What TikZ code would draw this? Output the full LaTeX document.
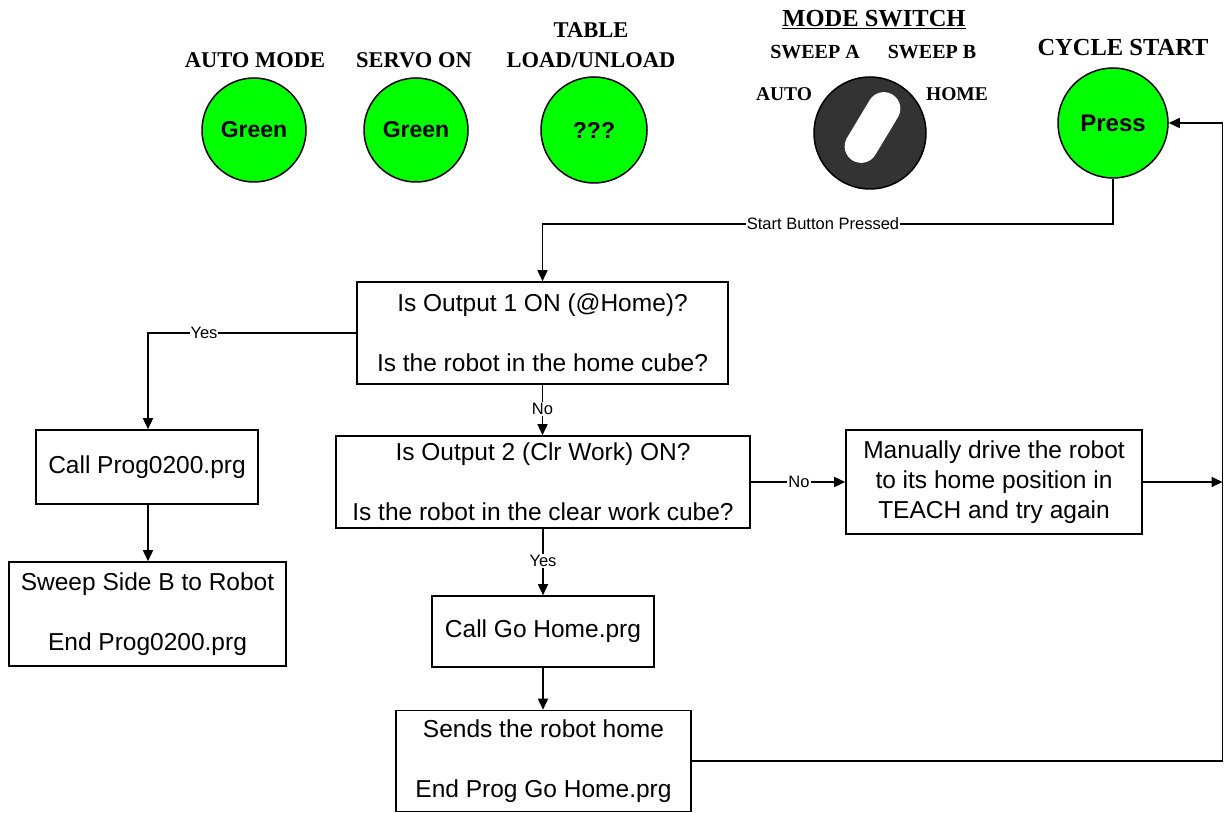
\documentclass[tikz,border=0pt]{standalone}
\usepackage{fontspec}
\setmainfont{Liberation Serif}
\setsansfont{Liberation Sans}
\newfontfamily\titlefont{Liberation Serif}
\usetikzlibrary{arrows.meta}
\definecolor{btngreen}{RGB}{0,255,0}
\definecolor{knobgray}{RGB}{51,51,51}
\begin{document}
\begin{tikzpicture}[x=1pt,y=-1pt,
  box/.style={draw, line width=1.6pt, inner sep=0pt, align=center,
    font=\sffamily\fontsize{24.5}{30}\selectfont},
  btn/.style={circle, draw, line width=1.5pt, fill=btngreen, inner sep=0pt,
    font=\sffamily\bfseries\fontsize{23}{27}\selectfont},
  ttl/.style={inner sep=0pt, align=center, font=\titlefont\bfseries\fontsize{22.5}{30}\selectfont},
  sttl/.style={inner sep=0pt, font=\titlefont\bfseries\fontsize{19.5}{24}\selectfont},
  lbl/.style={fill=white, inner sep=1pt, font=\sffamily\fontsize{16.5}{20}\selectfont},
  arr/.style={line width=1.6pt, -{Triangle[length=11pt,width=10pt]}},
  ln/.style={line width=1.6pt}]
\useasboundingbox (0,0) rectangle (1224,813);

% top controls
\node[ttl] (tauto) at (255,60) {AUTO MODE};
\node[btn, minimum size=104pt] (auto) at (254,130) {Green};
\node[ttl] (tservo) at (414,60) {SERVO ON};
\node[btn, minimum size=104pt] (servo) at (416,130) {Green};
\node[ttl] (ttable) at (591,45) {TABLE\\LOAD/UNLOAD};
\node[btn, minimum size=106pt] (table) at (594,130) {???};

\node[ttl, font=\titlefont\bfseries\fontsize{24.5}{30}\selectfont] (tmode) at (874,20) {\underline{MODE SWITCH}};
\node[sttl, font=\titlefont\bfseries\fontsize{20}{24}\selectfont] (swa) at (815,52) {SWEEP A};
\node[sttl, font=\titlefont\bfseries\fontsize{20}{24}\selectfont] (swb) at (932,52) {SWEEP B};
\node[sttl] (mauto) at (784,94) {AUTO};
\node[sttl] (mhome) at (957,94) {HOME};
\node[circle, draw, line width=1.5pt, fill=knobgray, minimum size=112pt, inner sep=0pt] (knob) at (870,133) {};
\node[fill=white, rounded corners=16.5pt, minimum width=33pt, minimum height=77pt, inner sep=0pt, rotate=-31] (slot) at (872.5,127.5) {};

\node[ttl, font=\titlefont\bfseries\fontsize{24.5}{30}\selectfont] (tcycle) at (1123,48) {CYCLE START};
\node[btn, minimum size=110pt, font=\sffamily\bfseries\fontsize{24}{28}\selectfont] (press) at (1113,123) {Press};

% flow boxes
\node[box, minimum width=371pt, minimum height=102pt] (box1) at (542.5,333) {Is Output 1 ON (@Home)?\\[30pt]Is the robot in the home cube?};
\node[box, minimum width=222pt, minimum height=74pt] (call1) at (147,467) {Call Prog0200.prg};
\node[box, minimum width=277pt, minimum height=104pt] (sweep) at (147.5,614) {Sweep Side B to Robot\\[30pt]End Prog0200.prg};
\node[box, minimum width=414pt, minimum height=92pt] (box2) at (543,482) {Is Output 2 (Clr Work) ON?\\[30pt]Is the robot in the clear work cube?};
\node[box, minimum width=222pt, minimum height=71pt] (call2) at (543,631.5) {Call Go Home.prg};
\node[box, minimum width=295pt, minimum height=101pt] (box4) at (543.5,761) {Sends the robot home\\[30pt]End Prog Go Home.prg};
\node[box, minimum width=296pt, minimum height=104pt] (manual) at (994,482) {Manually drive the robot\\to its home position in\\TEACH and try again};

% connectors
\coordinate (c1) at (1113,224);
\coordinate (c2) at (542.5,224);
\draw[arr] (press.south) -- (c1) -- (c2) -- (box1.north);
\node[lbl] (lstart) at (823,224) {Start Button Pressed};

\coordinate (y1) at (148,333);
\draw[arr] (box1.west) -- (y1) -- (call1.north -| y1);
\node[lbl] (lyes1) at (204,333) {Yes};

\draw[arr] (call1.south -| y1) -- (sweep.north -| y1);

\draw[arr] (box1.south) -- (box2.north -| box1.south);
\node[lbl] (lno1) at (542.5,409) {No};

\draw[arr] (box2.east) -- (manual.west);
\node[lbl] (lno2) at (799,482) {No};

\draw[arr] (box2.south) -- (call2.north);
\node[lbl] (lyes2) at (543,561) {Yes};

\draw[arr] (call2.south) -- (box4.north -| call2.south);

\coordinate (rj) at (1222.5,482);
\draw[arr] (manual.east) -- (rj);

\coordinate (rb) at (1222.5,761);
\coordinate (rt) at (1222.5,123);
\draw[arr] (box4.east) -- (rb) -- (rt) -- (press.east);
\end{tikzpicture}
\end{document}
